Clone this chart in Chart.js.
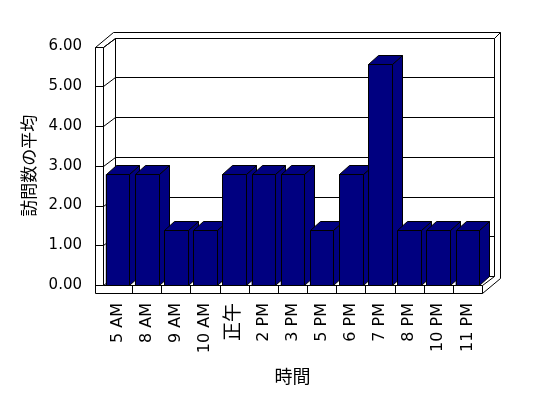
<!DOCTYPE html>
<html lang="ja">
<head>
    <meta charset="UTF-8">
    <title>訪問数の平均</title>
    <script src="https://cdn.jsdelivr.net/npm/chart.js"></script>
    <style>
        body { margin: 0; background: #fff; }
    </style>
</head>
<body>
    <canvas id="myChart" width="548" height="398"></canvas>
    <script>
        // data
        const hours = ['5 AM', '8 AM', '9 AM', '10 AM', '正午', '2 PM', '3 PM', '5 PM', '6 PM', '7 PM', '8 PM', '10 PM', '11 PM'];
        const avgVisits = [2.78, 2.78, 1.39, 1.39, 2.78, 2.78, 2.78, 1.39, 2.78, 5.56, 1.39, 1.39, 1.39];
        const valueTicks = [0, 1, 2, 3, 4, 5, 6];

        // 3d look
        const WALL_DX = 12, WALL_DY = -9, WALL_T = 8, BACK_T = 6;
        const BAR_DX = 10, BAR_DY = -9;
        const BAR_COLOR = '#000080';

        const px = v => Math.round(v) + 0.5;

        function line(ctx, pts) {
            ctx.beginPath();
            ctx.moveTo(px(pts[0][0]), px(pts[0][1]));
            for (let i = 1; i < pts.length; i++) ctx.lineTo(px(pts[i][0]), px(pts[i][1]));
            ctx.stroke();
        }

        const box3d = {
            id: 'box3d',
            beforeDatasetsDraw(chart) {
                const ctx = chart.ctx;
                const { left: L, right: R, top: T, bottom: B } = chart.chartArea;
                const ys = chart.scales.y, xs = chart.scales.x;
                const topY = T + WALL_DY - BACK_T;
                const rightX = R + WALL_DX + BACK_T;
                ctx.save();
                ctx.strokeStyle = '#000';
                ctx.lineWidth = 1;

                // outer outline
                line(ctx, [[L - WALL_T, B + WALL_T], [L - WALL_T, T], [L - WALL_T + WALL_DX + BACK_T, topY],
                    [rightX, topY], [rightX, B + WALL_T + WALL_DY - BACK_T], [R, B + WALL_T], [L - WALL_T, B + WALL_T]]);

                // left wall front edge and top
                line(ctx, [[L, B], [L, T], [L + WALL_DX, T + WALL_DY]]);
                line(ctx, [[L - WALL_T, T], [L, T]]);

                // back wall
                line(ctx, [[L + WALL_DX, B + WALL_DY], [L + WALL_DX, T + WALL_DY], [R + WALL_DX, T + WALL_DY], [R + WALL_DX, B + WALL_DY]]);
                line(ctx, [[R + WALL_DX, T + WALL_DY], [rightX, topY]]);

                // floor
                line(ctx, [[L, B], [R, B], [R, B + WALL_T]]);
                line(ctx, [[R, B], [R + WALL_DX, B + WALL_DY]]);

                // gridlines on the walls
                valueTicks.forEach(v => {
                    const y = ys.getPixelForValue(v);
                    line(ctx, [[L - WALL_T, y], [L, y], [L + WALL_DX, y + WALL_DY], [R + WALL_DX, y + WALL_DY]]);
                });

                // category separators on the floor front
                for (let i = 1; i < hours.length; i++) {
                    const x = xs.getPixelForValue(i - 0.5);
                    line(ctx, [[x, B], [x, B + WALL_T]]);
                }
                ctx.restore();
            },
            afterDatasetsDraw(chart) {
                const ctx = chart.ctx;
                const meta = chart.getDatasetMeta(0);
                ctx.save();
                ctx.strokeStyle = '#000';
                ctx.fillStyle = BAR_COLOR;
                ctx.lineWidth = 1;
                meta.data.forEach(bar => {
                    const x0 = Math.round(bar.x - bar.width / 2) + 0.5;
                    const x1 = Math.round(bar.x + bar.width / 2) + 0.5;
                    const y0 = Math.round(bar.y) + 0.5;
                    const y1 = Math.round(bar.base) + 0.5;
                    const faces = [
                        [[x1, y0], [x1 + BAR_DX, y0 + BAR_DY], [x1 + BAR_DX, y1 + BAR_DY], [x1, y1]],
                        [[x0, y0], [x0 + BAR_DX, y0 + BAR_DY], [x1 + BAR_DX, y0 + BAR_DY], [x1, y0]],
                        [[x0, y0], [x1, y0], [x1, y1], [x0, y1]]
                    ];
                    faces.forEach(f => {
                        ctx.beginPath();
                        ctx.moveTo(f[0][0], f[0][1]);
                        for (let i = 1; i < f.length; i++) ctx.lineTo(f[i][0], f[i][1]);
                        ctx.closePath();
                        ctx.fill();
                        ctx.stroke();
                    });
                });
                ctx.restore();
            }
        };

        const tickFamily = "'DejaVu Sans', 'Noto Sans CJK JP', sans-serif";
        const titleFamily = "'Noto Sans CJK JP', sans-serif";

        new Chart(document.getElementById('myChart'), {
            type: 'bar',
            data: {
                labels: hours,
                datasets: [{
                    label: '訪問数の平均',
                    data: avgVisits,
                    backgroundColor: BAR_COLOR,
                    borderWidth: 0,
                    categoryPercentage: 0.81,
                    barPercentage: 1.0
                }]
            },
            options: {
                responsive: false,
                animation: false,
                devicePixelRatio: 1,
                layout: { padding: { top: 46.5, right: 66, left: 0, bottom: 0 } },
                plugins: {
                    legend: { display: false },
                    tooltip: { enabled: false }
                },
                scales: {
                    x: {
                        grid: { display: false, drawTicks: false },
                        border: { display: false },
                        ticks: {
                            autoSkip: false,
                            minRotation: 90,
                            maxRotation: 90,
                            padding: 18,
                            color: '#000',
                            font: c => ({ family: tickFamily, size: hours[c.index] === '正午' ? 19 : 16 })
                        },
                        title: {
                            display: true,
                            text: '時間',
                            color: '#000',
                            font: { family: titleFamily, size: 18 },
                            padding: { top: 0, bottom: 11 }
                        },
                        afterFit(scale) { scale.height = 113; }
                    },
                    y: {
                        min: 0,
                        max: 6,
                        grid: { display: false, drawTicks: false },
                        border: { display: false },
                        ticks: {
                            stepSize: 1,
                            padding: 21,
                            color: '#000',
                            font: { family: tickFamily, size: 15 },
                            callback: v => v.toFixed(2)
                        },
                        title: {
                            display: true,
                            text: '訪問数の平均',
                            color: '#000',
                            font: { family: titleFamily, size: 17 },
                            padding: { top: 18, bottom: 0 }
                        },
                        afterFit(scale) { scale.width = 103; }
                    }
                }
            },
            plugins: [box3d]
        });
    </script>
</body>
</html>
